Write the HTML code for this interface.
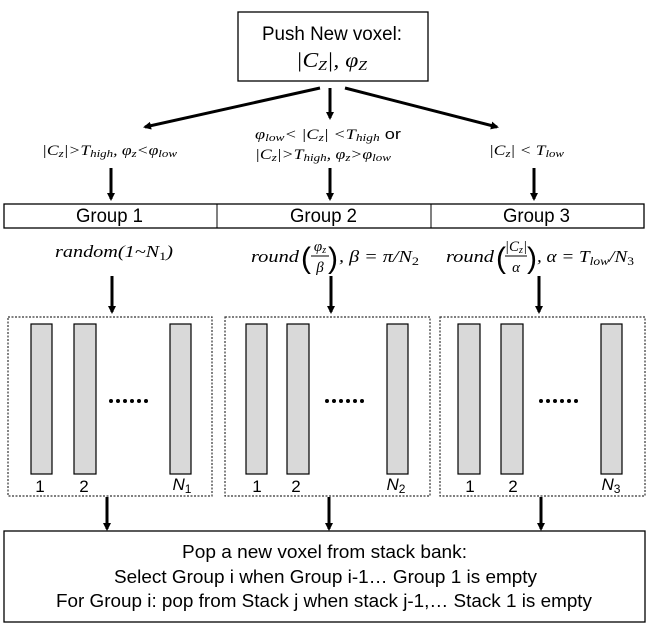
<!DOCTYPE html>
<html><head><meta charset="utf-8"><style>
html,body{margin:0;padding:0;background:#fff}
svg{display:block}
text{font-family:"Liberation Sans",sans-serif;fill:#000}
.m{font-family:"Liberation Serif",serif;font-style:italic}
</style></head><body>
<svg width="648" height="627" viewBox="0 0 648 627">
<defs><marker id="a" markerWidth="8" markerHeight="8" refX="6" refY="4" orient="auto" markerUnits="userSpaceOnUse"><path d="M0,0 L8,4 L0,8 z" fill="#000"/></marker></defs>
<rect x="238" y="12" width="190" height="69" fill="#fff" stroke="#000" stroke-width="1.3"/>
<text x="262" y="40" font-size="19" textLength="140" lengthAdjust="spacingAndGlyphs">Push New voxel:</text>
<text x="296" y="67" font-size="21" class="m" textLength="71" lengthAdjust="spacingAndGlyphs">|C<tspan font-size="14" dy="3">Z</tspan><tspan dy="-3">|, φ</tspan><tspan font-size="14" dy="3">Z</tspan></text>
<g stroke="#000" stroke-width="3" marker-end="url(#a)">
<line x1="320" y1="88" x2="145" y2="127"/>
<line x1="330" y1="88" x2="330" y2="118"/>
<line x1="345" y1="88" x2="497" y2="127"/>
<line x1="111" y1="168" x2="111" y2="199"/>
<line x1="330" y1="168" x2="330" y2="199"/>
<line x1="534" y1="168" x2="534" y2="199"/>
<line x1="112" y1="276" x2="112" y2="312"/>
<line x1="331" y1="276" x2="331" y2="312"/>
<line x1="539" y1="276" x2="539" y2="312"/>
<line x1="107" y1="497" x2="107" y2="529"/>
<line x1="329" y1="497" x2="329" y2="529"/>
<line x1="541" y1="497" x2="541" y2="529"/>
</g>
<text x="42" y="155" font-size="15" class="m" textLength="135" lengthAdjust="spacingAndGlyphs">|C<tspan font-size="11" dy="2">z</tspan><tspan dy="-2">|&gt;T</tspan><tspan font-size="11" dy="2">high</tspan><tspan dy="-2">, φ</tspan><tspan font-size="11" dy="2">z</tspan><tspan dy="-2">&lt;φ</tspan><tspan font-size="11" dy="2">low</tspan></text>
<text x="255" y="139" font-size="15" class="m" textLength="146" lengthAdjust="spacingAndGlyphs">φ<tspan font-size="11" dy="2">low</tspan><tspan dy="-2">&lt; |C</tspan><tspan font-size="11" dy="2">z</tspan><tspan dy="-2">| &lt;T</tspan><tspan font-size="11" dy="2">high</tspan><tspan dy="-2" font-style="normal" font-family="Liberation Sans">   or</tspan></text>
<text x="255" y="159" font-size="15" class="m" textLength="136" lengthAdjust="spacingAndGlyphs">|C<tspan font-size="11" dy="2">z</tspan><tspan dy="-2">|&gt;T</tspan><tspan font-size="11" dy="2">high</tspan><tspan dy="-2">, φ</tspan><tspan font-size="11" dy="2">z</tspan><tspan dy="-2">&gt;φ</tspan><tspan font-size="11" dy="2">low</tspan></text>
<text x="489" y="155" font-size="15" class="m" textLength="75" lengthAdjust="spacingAndGlyphs">|C<tspan font-size="11" dy="2">z</tspan><tspan dy="-2">| &lt; T</tspan><tspan font-size="11" dy="2">low</tspan></text>
<rect x="4" y="204" width="640" height="24" fill="#fff" stroke="#000" stroke-width="1.3"/>
<line x1="217" y1="204" x2="217" y2="228" stroke="#000"/>
<line x1="431" y1="204" x2="431" y2="228" stroke="#000"/>
<text x="76" y="222" font-size="19" textLength="67" lengthAdjust="spacingAndGlyphs">Group 1</text>
<text x="290" y="222" font-size="19" textLength="67" lengthAdjust="spacingAndGlyphs">Group 2</text>
<text x="503" y="222" font-size="19" textLength="67" lengthAdjust="spacingAndGlyphs">Group 3</text>
<text x="55" y="257" font-size="17" class="m" textLength="118" lengthAdjust="spacingAndGlyphs">random(1~N<tspan font-size="12" dy="3" font-style="normal">1</tspan><tspan dy="-3">)</tspan></text>
<text x="251" y="262" font-size="17" class="m" textLength="48" lengthAdjust="spacingAndGlyphs">round</text>
<text x="301" y="268" font-size="30" font-family="Liberation Serif" font-weight="100">(</text>
<text x="320" y="251" font-size="15" text-anchor="middle" class="m">φ<tspan font-size="10" dy="2">z</tspan></text>
<line x1="311" y1="256" x2="329" y2="256" stroke="#000" stroke-width="0.9"/>
<text x="320" y="272" font-size="15" text-anchor="middle" class="m">β</text>
<text x="328" y="268" font-size="30" font-family="Liberation Serif">)</text>
<text x="339" y="262" font-size="17" class="m" textLength="80" lengthAdjust="spacingAndGlyphs">, β = π/N<tspan font-size="12" dy="3" font-style="normal">2</tspan></text>
<text x="446" y="262" font-size="17" class="m" textLength="48" lengthAdjust="spacingAndGlyphs">round</text>
<text x="496" y="268" font-size="30" font-family="Liberation Serif">(</text>
<text x="516" y="251" font-size="15" text-anchor="middle" class="m">|C<tspan font-size="10" dy="2">z</tspan><tspan dy="-2">|</tspan></text>
<line x1="505" y1="256" x2="527" y2="256" stroke="#000" stroke-width="0.9"/>
<text x="516" y="272" font-size="15" text-anchor="middle" class="m">α</text>
<text x="527" y="268" font-size="30" font-family="Liberation Serif">)</text>
<text x="537" y="262" font-size="17" class="m" textLength="97" lengthAdjust="spacingAndGlyphs">, α = T<tspan font-size="12" dy="3">low</tspan><tspan dy="-3">/N</tspan><tspan font-size="12" dy="3" font-style="normal">3</tspan></text>
<g fill="none" stroke="#333" stroke-width="1.2" stroke-dasharray="2,1.5">
<rect x="8" y="317" width="204" height="179"/>
<rect x="225" y="317" width="205" height="179"/>
<rect x="440" y="317" width="205" height="179"/>
</g>
<g fill="#d9d9d9" stroke="#000" stroke-width="1.2">
<rect x="31" y="324" width="21" height="150"/><rect x="74" y="324" width="22" height="150"/><rect x="170" y="324" width="21" height="150"/>
<rect x="246" y="324" width="21" height="150"/><rect x="287" y="324" width="22" height="150"/><rect x="387" y="324" width="21" height="150"/>
<rect x="458" y="324" width="22" height="150"/><rect x="501" y="324" width="22" height="150"/><rect x="601" y="324" width="21" height="150"/>
</g>
<g font-size="17" text-anchor="middle">
<text x="40" y="492">1</text><text x="84" y="492">2</text>
<text x="257" y="492">1</text><text x="296" y="492">2</text>
<text x="470" y="492">1</text><text x="513" y="492">2</text>
</g>
<g font-size="17" class="m">
<text x="182" y="490" text-anchor="middle">N<tspan font-size="12" dy="3" font-style="normal">1</tspan></text>
<text x="396" y="490" text-anchor="middle">N<tspan font-size="12" dy="3" font-style="normal">2</tspan></text>
<text x="611" y="490" text-anchor="middle">N<tspan font-size="12" dy="3" font-style="normal">3</tspan></text>
</g>
<g fill="#000">
<circle cx="111" cy="401" r="2"/><circle cx="118" cy="401" r="2"/><circle cx="125" cy="401" r="2"/><circle cx="132" cy="401" r="2"/><circle cx="139" cy="401" r="2"/><circle cx="146" cy="401" r="2"/>
<circle cx="327" cy="401" r="2"/><circle cx="334" cy="401" r="2"/><circle cx="341" cy="401" r="2"/><circle cx="348" cy="401" r="2"/><circle cx="355" cy="401" r="2"/><circle cx="362" cy="401" r="2"/>
<circle cx="541" cy="401" r="2"/><circle cx="548" cy="401" r="2"/><circle cx="555" cy="401" r="2"/><circle cx="562" cy="401" r="2"/><circle cx="569" cy="401" r="2"/><circle cx="576" cy="401" r="2"/>
</g>
<rect x="4" y="531" width="641" height="91" fill="#fff" stroke="#000" stroke-width="1.3"/>
<g font-size="18">
<text x="182" y="558" textLength="285" lengthAdjust="spacingAndGlyphs">Pop a new voxel from stack bank:</text>
<text x="114" y="583" textLength="423" lengthAdjust="spacingAndGlyphs">Select Group i when Group i-1… Group 1 is empty</text>
<text x="56" y="607" textLength="536" lengthAdjust="spacingAndGlyphs">For Group i: pop from Stack j when stack j-1,… Stack 1 is empty</text>
</g>
</svg>
</body></html>
